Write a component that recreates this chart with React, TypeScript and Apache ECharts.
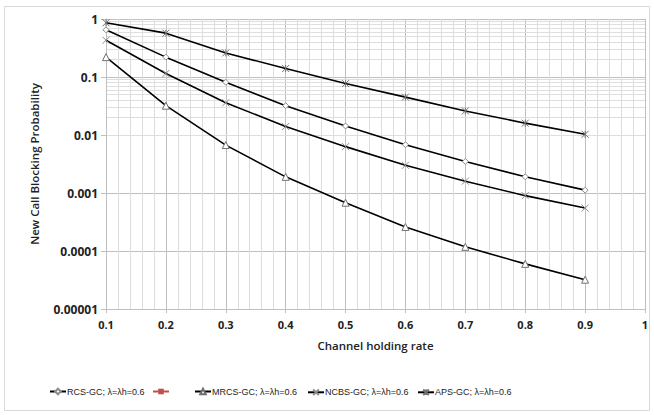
import React, { useEffect, useRef } from "react";
import * as echarts from "echarts";

const xValues = [0.1, 0.2, 0.3, 0.4, 0.5, 0.6, 0.7, 0.8, 0.9];
const rcs = [0.65, 0.22, 0.081, 0.032, 0.0143, 0.0068, 0.0035, 0.0019, 0.00112];
const mrcs = [0.22, 0.032, 0.0067, 0.0019, 0.00068, 0.00026, 0.000118, 0.00006, 0.000032];
const ncbs = [0.43, 0.115, 0.036, 0.014, 0.0063, 0.003, 0.0016, 0.0009, 0.00055];
const aps = [0.86, 0.57, 0.26, 0.14, 0.077, 0.045, 0.026, 0.016, 0.0103];
const seriesNames = [
  "RCS-GC; λ=λh=0.6",
  " ",
  "MRCS-GC; λ=λh=0.6",
  "NCBS-GC; λ=λh=0.6",
  "APS-GC; λ=λh=0.6",
];
const yMin = 0.00001;
const yMax = 1;

const FONT = "'Open Sans', 'Liberation Sans', sans-serif";
const LEGEND_FONT = "'Liberation Sans', Arial, sans-serif";

export default function App() {
  const ref = useRef<HTMLDivElement>(null);
  useEffect(() => {
    document.body.style.margin = "0";
    if (!ref.current) return;
    const chart = echarts.init(ref.current, undefined, { renderer: "svg" });

    const pairs = (ys: number[]) => xValues.map((x, i) => [x, ys[i]]);

    // minor log gridlines (2..9 within each decade)
    const minorLines: any[] = [];
    for (let e = -5; e < 0; e++) {
      for (let m = 2; m <= 9; m++) {
        minorLines.push({ yAxis: m * Math.pow(10, e) });
      }
    }

    const lineBase = {
      type: "line",
      lineStyle: { color: "#000", width: 1.6 },
      z: 3,
    };

    const legendLefts = [44, 147, 189, 302, 412];

    chart.setOption({
      animation: false,
      textStyle: { fontFamily: FONT },
      graphic: [
        {
          type: "rect",
          shape: { x: 4.5, y: 6.5, width: 645, height: 404 },
          style: { fill: "none", stroke: "#d9d9d9", lineWidth: 1 },
          z: -10,
        },
      ],
      legend: seriesNames.map((n, i) => ({
        data: [n],
        left: legendLefts[i],
        top: 382,
        itemWidth: 16,
        itemHeight: 7,
        itemGap: 4,
        textStyle: { fontSize: 9, color: "#222", fontFamily: LEGEND_FONT, padding: [0, 0, 0, -4] },
      })),
      grid: { left: 106, right: 9, top: 19, bottom: 106 },
      xAxis: {
        type: "value",
        min: 0.1,
        max: 1,
        interval: 0.1,
        name: "Channel holding rate",
        nameLocation: "middle",
        nameGap: 30,
        nameTextStyle: { fontSize: 11.5, color: "#222", fontWeight: 600 },
        axisLine: { lineStyle: { color: "#bfbfbf" } },
        axisTick: { show: true, length: 4, lineStyle: { color: "#bfbfbf" } },
        axisLabel: {
          fontSize: 11,
          fontWeight: "bold",
          color: "#222",
          margin: 10,
          formatter: (v: number) => String(Math.round(v * 10) / 10),
        },
        splitLine: { show: true, lineStyle: { color: "#bfbfbf", width: 1 } },
        minorTick: { show: false, splitNumber: 5 },
        minorSplitLine: { show: true, lineStyle: { color: "#dedede", width: 1 } },
      },
      yAxis: {
        type: "log",
        logBase: 10,
        min: yMin,
        max: yMax,
        name: "New Call Blocking Probability",
        nameLocation: "middle",
        nameRotate: 90,
        nameGap: 66,
        nameTextStyle: { fontSize: 11.5, color: "#222", fontWeight: 600 },
        axisLine: { show: true, lineStyle: { color: "#bfbfbf" } },
        axisTick: { show: true, length: 5, lineStyle: { color: "#bfbfbf" } },
        axisLabel: {
          fontSize: 12,
          fontWeight: "bold",
          color: "#222",
          margin: 8,
          formatter: (v: number) => {
            const e = Math.round(Math.log10(v));
            return e >= 0 ? "1" : Math.pow(10, e).toFixed(-e);
          },
        },
        splitLine: { show: true, lineStyle: { color: "#bfbfbf", width: 1 } },
      },
      series: [
        {
          type: "line",
          name: "__grid",
          data: [[0.1, 1]],
          symbol: "none",
          silent: true,
          lineStyle: { opacity: 0 },
          z: 0,
          markLine: {
            silent: true,
            symbol: "none",
            label: { show: false },
            lineStyle: { color: "#dedede", type: "solid", width: 1 },
            data: minorLines,
            z: 0,
          },
        },
        {
          ...lineBase,
          name: seriesNames[0],
          data: pairs(rcs),
          symbol: "diamond",
          symbolSize: 6,
          itemStyle: { color: "#fff", borderColor: "#8c8c8c", borderWidth: 1 },
        },
        {
          type: "line",
          name: seriesNames[1],
          data: [],
          symbol: "rect",
          symbolSize: 6,
          lineStyle: { color: "#c0504d", width: 2 },
          itemStyle: { color: "#c0504d" },
        },
        {
          ...lineBase,
          name: seriesNames[2],
          data: pairs(mrcs),
          symbol: "triangle",
          symbolSize: 7,
          itemStyle: { color: "#fff", borderColor: "#707070", borderWidth: 1 },
        },
        {
          ...lineBase,
          name: seriesNames[3],
          data: pairs(ncbs),
          symbol: "path://M0,0L10,10M10,0L0,10",
          symbolSize: 7,
          itemStyle: { color: "none", borderColor: "#8c8c8c", borderWidth: 1 },
        },
        {
          ...lineBase,
          name: seriesNames[4],
          data: pairs(aps),
          symbol: "path://M0,0L10,10M10,0L0,10M5,0L5,10",
          symbolSize: 7,
          itemStyle: { color: "none", borderColor: "#707070", borderWidth: 1 },
        },
      ],
    });
    return () => chart.dispose();
  }, []);
  return <div ref={ref} style={{ width: 654, height: 415 }} />;
}
